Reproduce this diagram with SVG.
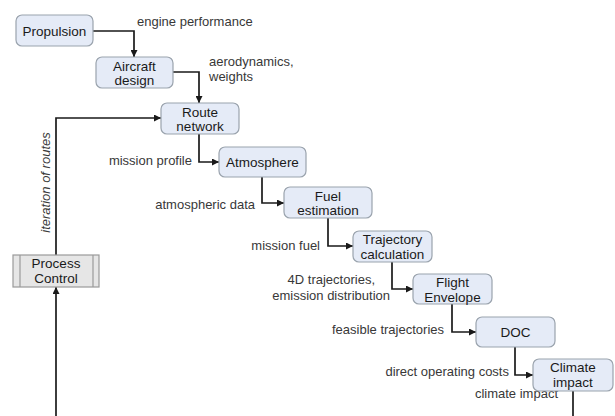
<svg xmlns="http://www.w3.org/2000/svg" width="615" height="416" viewBox="0 0 615 416">
<style>
.node rect{fill:#e5ebf7;stroke:#9aa3ad;stroke-width:1.2}
.nt{font-family:"Liberation Sans",Arial,sans-serif;font-size:13.5px;fill:#1a1a1a;text-anchor:middle}
.lb{font-family:"Liberation Sans",Arial,sans-serif;font-size:13px;fill:#383838}
.e{fill:none;stroke:#1a1a1a;stroke-width:1.7}
</style>
<defs>
<marker id="ah" viewBox="0 0 10 10" refX="10" refY="5" markerWidth="7" markerHeight="7" markerUnits="userSpaceOnUse" orient="auto">
<path d="M0,0 L10,5 L0,10 z" fill="#1a1a1a"/>
</marker>
</defs>
<rect width="615" height="416" fill="#fff"/>
<g id="connectors">
<path class="e" d="M93,31 H134 V57" marker-end="url(#ah)"/>
<path class="e" d="M173,72 H199 V103" marker-end="url(#ah)"/>
<path class="e" d="M56,255 V118 H161" marker-end="url(#ah)"/>
<path class="e" d="M199,134 V162 H219" marker-end="url(#ah)"/>
<path class="e" d="M262,177 V203 H284" marker-end="url(#ah)"/>
<path class="e" d="M328,218 V246 H353" marker-end="url(#ah)"/>
<path class="e" d="M392,262 V289 H413" marker-end="url(#ah)"/>
<path class="e" d="M452,304 V332 H476" marker-end="url(#ah)"/>
<path class="e" d="M515,347 V375 H533" marker-end="url(#ah)"/>
<path class="e" d="M573,391 V416"/>
<path class="e" d="M56,416 V287" marker-end="url(#ah)"/>
</g>
<g id="labels">
<text class="lb" x="137" y="26">engine performance</text>
<text class="lb" x="209" y="66">aerodynamics,</text>
<text class="lb" x="209" y="80.5">weights</text>
<text class="lb" x="192" y="164.5" text-anchor="end">mission profile</text>
<text class="lb" x="255" y="209" text-anchor="end">atmospheric data</text>
<text class="lb" x="320" y="249.5" text-anchor="end">mission fuel</text>
<text class="lb" x="375" y="284" text-anchor="end">4D trajectories,</text>
<text class="lb" x="390" y="300" text-anchor="end">emission distribution</text>
<text class="lb" x="444" y="334" text-anchor="end">feasible trajectories</text>
<text class="lb" x="509" y="376" text-anchor="end">direct operating costs</text>
<text class="lb" x="558" y="398" text-anchor="end">climate impact</text>
<text class="lb" transform="translate(49.5,182.5) rotate(-90)" text-anchor="middle" font-style="italic">iteration of routes</text>
</g>
<g id="propulsion" class="node"><rect x="16" y="15" width="77" height="31" rx="6"/><text class="nt" x="54.5" y="35.5">Propulsion</text></g>
<g id="aircraft-design" class="node"><rect x="96" y="57" width="77" height="31" rx="6"/><text class="nt" x="134.5" y="70.5">Aircraft</text><text class="nt" x="134.5" y="85">design</text></g>
<g id="route-network" class="node"><rect x="161" y="103" width="78" height="31" rx="6"/><text class="nt" x="200" y="116.5">Route</text><text class="nt" x="200" y="131">network</text></g>
<g id="atmosphere" class="node"><rect x="219" y="147" width="87" height="30" rx="6"/><text class="nt" x="262.5" y="166.5">Atmosphere</text></g>
<g id="fuel-estimation" class="node"><rect x="284" y="187" width="88" height="31" rx="6"/><text class="nt" x="328" y="200.5">Fuel</text><text class="nt" x="328" y="215">estimation</text></g>
<g id="trajectory-calculation" class="node"><rect x="353" y="231" width="79" height="31" rx="6"/><text class="nt" x="392.5" y="244">Trajectory</text><text class="nt" x="392.5" y="258.5">calculation</text></g>
<g id="flight-envelope" class="node"><rect x="413" y="274" width="79" height="30" rx="6"/><text class="nt" x="452.5" y="287">Flight</text><text class="nt" x="452.5" y="301.5">Envelope</text></g>
<g id="doc" class="node"><rect x="476" y="317" width="79" height="30" rx="6"/><text class="nt" x="515.5" y="336.5">DOC</text></g>
<g id="climate-impact" class="node"><rect x="533" y="359" width="80" height="32" rx="6"/><text class="nt" x="573" y="372">Climate</text><text class="nt" x="573" y="386.5">impact</text></g>
<g id="process-control"><rect x="13" y="255" width="86" height="32" fill="#e6e6e6" stroke="#9a9a9a" stroke-width="1.2"/><line x1="20" y1="255" x2="20" y2="287" stroke="#9a9a9a" stroke-width="1.2"/><line x1="93" y1="255" x2="93" y2="287" stroke="#9a9a9a" stroke-width="1.2"/><text class="nt" x="56" y="268">Process</text><text class="nt" x="56" y="283">Control</text></g>
</svg>
